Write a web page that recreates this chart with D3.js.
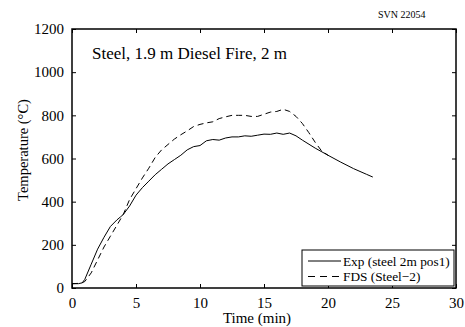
<!DOCTYPE html>
<html>
<head>
<meta charset="UTF-8">
<script src="https://d3js.org/d3.v7.min.js"></script>
</head>
<body style="margin:0; background:#fff">
<script>
  // Exp (steel 2m pos1)
  const expTime = [0, 0.5, 0.8, 1, 1.5, 2, 2.5, 3, 3.5, 3.8, 4, 4.5, 5, 5.5, 6, 6.5, 7, 7.5, 8, 8.5, 9, 9.5, 10, 10.5, 11, 11.5, 12, 12.5, 13, 13.5, 14, 14.5, 15, 15.5, 16, 16.5, 17, 17.5, 18, 19, 20, 21, 22, 23, 23.5]
  const expTemp = [20, 20, 24, 40, 110, 180, 235, 285, 315, 330, 340, 380, 430, 465, 495, 525, 550, 575, 595, 615, 640, 655, 660, 682, 688, 685, 695, 700, 700, 705, 703, 708, 713, 712, 718, 712, 718, 705, 685, 648, 615, 583, 553, 527, 514]
  // FDS (Steel-2)
  const fdsTime = [0, 0.7, 1, 1.5, 2, 2.5, 3, 3.5, 4, 4.5, 5, 5.5, 6, 6.5, 7, 7.5, 8, 8.5, 9, 9.5, 10, 10.5, 11, 11.5, 12, 12.5, 13, 13.5, 14, 14.5, 15, 15.5, 16, 16.5, 17, 17.5, 18, 18.5, 19, 19.5, 20]
  const fdsTemp = [20, 22, 30, 70, 130, 190, 240, 290, 340, 410, 460, 510, 555, 605, 640, 665, 690, 710, 728, 748, 758, 765, 770, 785, 793, 800, 800, 800, 795, 795, 805, 815, 818, 828, 818, 795, 762, 720, 675, 635, 615]

  const xTicks = [0, 5, 10, 15, 20, 25, 30]
  const yTicks = [0, 200, 400, 600, 800, 1000, 1200]

  const width = 465, height = 327
  const margin = { top: 29, right: 9, bottom: 39, left: 72 }
  const innerW = width - margin.left - margin.right
  const innerH = height - margin.top - margin.bottom
  const serif = "Liberation Serif"

  const svg = d3.select("body").append("svg")
      .attr("width", width)
      .attr("height", height)
      .attr("font-family", serif)

  const g = svg.append("g")
      .attr("transform", `translate(${margin.left},${margin.top})`)

  const x = d3.scaleLinear().domain([0, 30]).range([0, innerW])
  const y = d3.scaleLinear().domain([0, 1200]).range([innerH, 0])

  // axes, ticks pointing inward, also mirrored on top/right
  const tickLen = 4
  g.append("g").attr("transform", `translate(0,${innerH})`)
      .call(d3.axisBottom(x).tickValues(xTicks).tickFormat(d3.format("d"))
        .tickSizeInner(-tickLen).tickSizeOuter(0).tickPadding(9.5))
  g.append("g")
      .call(d3.axisLeft(y).tickValues(yTicks).tickFormat(d3.format("d"))
        .tickSizeInner(-tickLen).tickSizeOuter(0).tickPadding(8))
  g.append("g")
      .call(d3.axisTop(x).tickValues(xTicks).tickSizeInner(-tickLen).tickSizeOuter(0).tickFormat(""))
  g.append("g").attr("transform", `translate(${innerW},0)`)
      .call(d3.axisRight(y).tickValues(yTicks).tickSizeInner(-tickLen).tickSizeOuter(0).tickFormat(""))

  g.selectAll(".domain").remove()
  g.selectAll("g").attr("font-family", serif).attr("font-size", 15)
  g.selectAll(".tick line").attr("stroke", "#000").attr("stroke-width", 1)
  g.selectAll(".tick text").attr("font-family", serif).attr("font-size", 15).attr("fill", "#000")

  g.append("rect")
      .attr("width", innerW).attr("height", innerH)
      .attr("fill", "none").attr("stroke", "#000").attr("stroke-width", 1.5)

  const line = d3.line().x(d => x(d[0])).y(d => y(d[1]))

  g.append("path")
      .datum(d3.zip(expTime, expTemp))
      .attr("d", line)
      .attr("fill", "none").attr("stroke", "#000").attr("stroke-width", 1)

  g.append("path")
      .datum(d3.zip(fdsTime, fdsTemp))
      .attr("d", line)
      .attr("fill", "none").attr("stroke", "#000").attr("stroke-width", 1)
      .attr("stroke-dasharray", "6,4")

  // title inside plot
  g.append("text")
      .attr("x", 20).attr("y", 30)
      .attr("font-family", serif).attr("font-size", 17)
      .text("Steel, 1.9 m Diesel Fire, 2 m")

  svg.append("text")
      .attr("x", 378).attr("y", 18)
      .attr("font-family", serif).attr("font-size", 10)
      .text("SVN 22054")

  // axis labels
  svg.append("text")
      .attr("x", 257).attr("y", 323)
      .attr("text-anchor", "middle")
      .attr("font-family", serif).attr("font-size", 15)
      .text("Time (min)")

  svg.append("text")
      .attr("transform", "translate(28,150) rotate(-90)")
      .attr("text-anchor", "middle")
      .attr("font-family", serif).attr("font-size", 14.5)
      .text("Temperature (°C)")

  // legend
  const lg = svg.append("g").attr("transform", "translate(302,250)")
  lg.append("rect")
      .attr("width", 152).attr("height", 36)
      .attr("fill", "#fff").attr("stroke", "#000").attr("stroke-width", 1)
  const legendItems = [
    { name: "Exp (steel 2m pos1)", dash: null },
    { name: "FDS (Steel\u22122)", dash: "7,5" }
  ]
  legendItems.forEach((d, i) => {
    const yy = 11 + i * 15.5
    lg.append("line")
        .attr("x1", 6).attr("x2", 39).attr("y1", yy).attr("y2", yy)
        .attr("stroke", "#000").attr("stroke-width", 1)
        .attr("stroke-dasharray", d.dash)
    lg.append("text")
        .attr("x", 41).attr("y", yy + 4.5)
        .attr("font-family", serif).attr("font-size", 13.3)
        .text(d.name)
  })
</script>
</body>
</html>
